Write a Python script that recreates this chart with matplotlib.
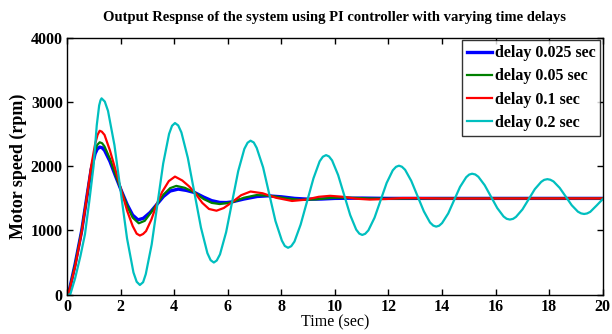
import matplotlib
matplotlib.use("Agg")
import matplotlib.pyplot as plt

# ---- data ----
labels = ["delay 0.025 sec", "delay 0.05 sec", "delay 0.1 sec", "delay 0.2 sec"]
colors = ["#0000ff", "#008000", "#ff0000", "#00bfbf"]

t_blue = [0, 0.05, 0.3, 0.55, 0.75, 0.9, 1.05, 1.13, 1.22, 1.31, 1.4, 1.6, 1.8, 2.03, 2.25, 2.45,
          2.65, 2.85, 3.1, 3.34, 3.6, 3.85, 4.15, 4.45, 4.77, 5.1, 5.4, 5.7, 5.95,
          6.15, 6.6, 7.1, 7.5, 8.0, 8.5, 9.0, 9.5, 10.0, 11.0, 12.0, 20.0]
v_blue = [0, 0, 470, 1000, 1550, 1950, 2200, 2270, 2300, 2290, 2250, 2080, 1860, 1618, 1400, 1240,
          1165, 1190, 1280, 1400, 1530, 1615, 1645, 1625, 1590, 1520, 1465, 1437, 1435,
          1445, 1490, 1530, 1540, 1525, 1500, 1488, 1490, 1500, 1505, 1500, 1500]

t_green = [0, 0.05, 0.3, 0.55, 0.75, 0.9, 1.05, 1.13, 1.22, 1.31, 1.4, 1.6, 1.8, 2.03, 2.25, 2.45,
           2.68, 2.9, 3.1, 3.34, 3.6, 3.85, 4.08, 4.4, 4.77, 5.1, 5.4, 5.7, 6.15, 6.6,
           7.08, 7.6, 8.2, 8.7, 9.3, 9.9, 10.5, 11.2, 12.0, 13.0, 20.0]
v_green = [0, 0, 460, 1000, 1550, 1970, 2250, 2335, 2375, 2360, 2310, 2120, 1880, 1618, 1380, 1200,
           1112, 1150, 1260, 1400, 1560, 1660, 1695, 1665, 1590, 1490, 1430, 1412, 1437, 1510,
           1552, 1540, 1500, 1478, 1485, 1510, 1512, 1500, 1495, 1500, 1500]

t_red = [0, 0.05, 0.3, 0.55, 0.75, 0.9, 1.05, 1.14, 1.22, 1.3, 1.4, 1.6, 1.8, 2.03, 2.25, 2.45,
         2.6, 2.72, 2.84, 2.95, 3.15, 3.34, 3.55, 3.8, 4.03, 4.3, 4.55, 4.77, 5.05, 5.3, 5.58,
         5.85, 6.15, 6.5, 6.85, 7.3, 7.8, 8.4, 8.9, 9.4, 9.82, 10.3, 10.8, 11.3, 11.9,
         12.5, 13.2, 14.0, 20.0]
v_red = [0, 0, 430, 980, 1550, 2000, 2350, 2490, 2555, 2540, 2490, 2250, 1960, 1618, 1300, 1070,
         950, 921, 945, 990, 1170, 1400, 1600, 1770, 1840, 1780, 1690, 1590, 1430, 1335, 1308,
         1350, 1437, 1550, 1607, 1580, 1510, 1460, 1480, 1525, 1540, 1525, 1495, 1482, 1490,
         1505, 1505, 1498, 1500]

t_cyan = [0, 0.12, 0.3, 0.5, 0.67, 0.83, 0.99, 1.11, 1.2, 1.25, 1.29, 1.41,
          1.53, 1.77, 2.005, 2.24, 2.48, 2.60, 2.72, 2.84,
          2.94, 3.16, 3.375, 3.59, 3.81, 3.92, 4.03, 4.15,
          4.27, 4.51, 4.755, 5.0, 5.24, 5.36, 5.48, 5.59,
          5.71, 5.94, 6.165, 6.39, 6.62, 6.74, 6.85, 6.97,
          7.08, 7.32, 7.55, 7.78, 8.02, 8.13, 8.25, 8.37,
          8.49, 8.72, 8.96, 9.2, 9.43, 9.55, 9.67, 9.78,
          9.895, 10.12, 10.345, 10.57, 10.795, 10.91, 11.02, 11.13,
          11.25, 11.48, 11.705, 11.93, 12.16, 12.28, 12.39, 12.5,
          12.62, 12.85, 13.085, 13.32, 13.55, 13.67, 13.78, 13.89,
          14.0, 14.23, 14.45, 14.67, 14.9, 15.01, 15.12, 15.24,
          15.355, 15.59, 15.825, 16.06, 16.295, 16.41, 16.53, 16.65,
          16.76, 17.0, 17.23, 17.46, 17.7, 17.81, 17.93, 18.04,
          18.16, 18.39, 18.615, 18.84, 19.07, 19.19, 19.3, 19.41,
          19.53, 19.77, 20.0]
v_cyan = [0, 0, 250, 600, 940, 1450, 2000, 2640, 2950, 3030, 3060, 3010,
          2865, 2332, 1605, 877, 345, 200, 150, 193,
          319, 781, 1412, 2044, 2506, 2632, 2675, 2638,
          2529, 2131, 1588, 1044, 646, 537, 500, 532,
          627, 975, 1450, 1925, 2273, 2368, 2400, 2372,
          2288, 1983, 1565, 1148, 842, 758, 730, 755,
          827, 1091, 1453, 1814, 2078, 2150, 2175, 2154,
          2092, 1864, 1553, 1241, 1013, 951, 930, 948,
          1002, 1200, 1470, 1740, 1938, 1992, 2010, 1994,
          1946, 1773, 1535, 1298, 1124, 1076, 1060, 1074,
          1115, 1266, 1473, 1679, 1830, 1871, 1885, 1873,
          1837, 1706, 1528, 1349, 1218, 1182, 1170, 1181,
          1212, 1328, 1485, 1643, 1758, 1789, 1800, 1791,
          1764, 1664, 1529, 1393, 1293, 1266, 1257, 1265,
          1290, 1390, 1490]

x_ticks = list(range(0, 21, 2))
y_ticks = [0, 1000, 2000, 3000, 4000]

# ---- figure ----
plt.rcParams["font.family"] = ["Liberation Serif", "DejaVu Serif"]
fig = plt.figure(figsize=(6.12, 3.34), dpi=100)
ax = fig.add_axes([0.1095, 0.118, 0.8755, 0.768])

series = [(t_blue, v_blue), (t_green, v_green), (t_red, v_red), (t_cyan, v_cyan)]
widths = [2.4, 1.6, 1.6, 1.6]
for (t, v), c, lab, w in zip(series, colors, labels, widths):
    ax.plot(t, v, color=c, lw=w, label=lab)

ax.set_xlim(0, 20)
ax.set_ylim(0, 4000)
ax.set_xticks(x_ticks)
ax.set_yticks(y_ticks)
ax.tick_params(direction="in", top=True, right=True, length=4, width=1,
               labelsize=11.5, pad=3)
for lab in ax.get_xticklabels() + ax.get_yticklabels():
    lab.set_fontweight("bold")
for s in ax.spines.values():
    s.set_linewidth(1.0)

ax.set_xlabel("Time (sec)", fontsize=11.5, labelpad=0)
ax.set_ylabel("Motor speed (rpm)", fontsize=13, fontweight="bold", labelpad=3)
ax.set_title("Output Respnse of the system using PI controller with varying time delays",
             fontsize=10.5, fontweight="bold", pad=12)

leg = ax.legend(loc="upper right", fontsize=11.5, frameon=True, fancybox=False,
                edgecolor="black", handlelength=1.6, handletextpad=0.15,
                borderpad=0.3, labelspacing=0.45, borderaxespad=0.15)
leg.get_frame().set_linewidth(1.0)
for txt in leg.get_texts():
    txt.set_fontweight("bold")

fig.savefig("out.png", dpi=100)
